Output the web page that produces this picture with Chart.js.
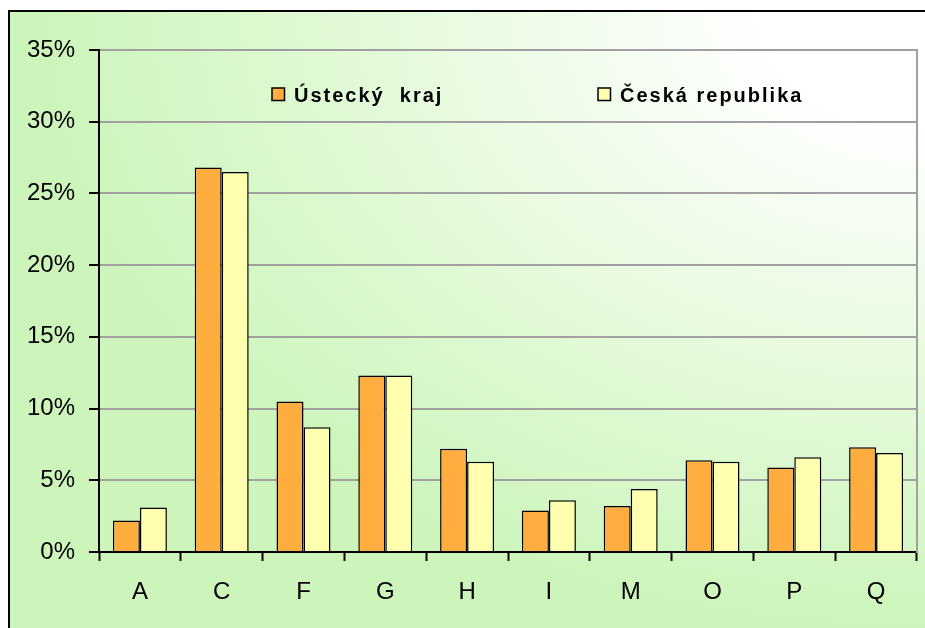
<!DOCTYPE html>
<html lang="cs">
<head>
<meta charset="UTF-8">
<title>Struktura zaměstnanosti</title>
<script src="https://cdn.jsdelivr.net/npm/chart.js"></script>
<style>
    body { margin: 0; background: #fff; width: 925px; height: 628px; overflow: hidden; position: relative; }
    #ramecek {
        position: absolute; left: 8px; top: 10px; width: 917px; height: 640px;
        border: 2px solid #000;
        background: radial-gradient(ellipse farthest-corner at top right, #ffffff 0%, #ffffff 12%, #cdf5bb 68%, #cdf5bb 100%);
    }
    #graf { position: absolute; left: 0; top: 0; }
</style>
</head>
<body>
<div id="ramecek"></div>
<canvas id="graf" width="925" height="628"></canvas>

<script>
// sekce CZ-NACE
const kategorie = ['A', 'C', 'F', 'G', 'H', 'I', 'M', 'O', 'P', 'Q'];
// podil na zamestnanosti (%)
const usteckyKraj = [2.2, 26.8, 10.5, 12.3, 7.2, 2.9, 3.2, 6.4, 5.9, 7.3];
const ceskaRepublika = [3.1, 26.5, 8.7, 12.3, 6.3, 3.6, 4.4, 6.3, 6.6, 6.9];
const nazvyRad = ['Ústecký  kraj', 'Česká republika'];
const barvy = ['#ffad3f', '#ffffaf'];

// legenda uvnitr grafu, jako v excelu
const legendaUvnitr = {
    id: 'legendaUvnitr',
    afterDraw(chart) {
        const ctx = chart.ctx;
        const area = chart.chartArea;
        const pozice = [area.left + 173, area.left + 499];
        ctx.save();
        ctx.font = 'bold 20px "Liberation Sans", Arial, sans-serif';
        ctx.letterSpacing = '2px';
        ctx.textBaseline = 'middle';
        chart.data.datasets.forEach(function (ds, i) {
            const x = pozice[i];
            const y = area.top + 46;
            ctx.fillStyle = ds.backgroundColor;
            ctx.fillRect(x, y - 8, 12.5, 12.5);
            ctx.strokeStyle = '#000';
            ctx.lineWidth = 1.5;
            ctx.strokeRect(x, y - 8, 12.5, 12.5);
            ctx.fillStyle = '#000';
            ctx.fillText(ds.label, x + 22, y);
        });
        ctx.restore();
    }
};

const pismo = { family: '"Liberation Sans", Arial, sans-serif', size: 24 };

const graf = new Chart(document.getElementById('graf'), {
    type: 'bar',
    data: {
        labels: kategorie,
        datasets: [
            {
                label: nazvyRad[0],
                data: usteckyKraj,
                backgroundColor: barvy[0],
                borderColor: '#000',
                borderWidth: 1.5,
                categoryPercentage: 0.66,
                barPercentage: 1
            },
            {
                label: nazvyRad[1],
                data: ceskaRepublika,
                backgroundColor: barvy[1],
                borderColor: '#000',
                borderWidth: 1.5,
                categoryPercentage: 0.66,
                barPercentage: 1
            }
        ]
    },
    options: {
        responsive: false,
        animation: false,
        devicePixelRatio: 1,
        layout: { padding: { top: 50, left: 0, right: 0, bottom: 0 } },
        plugins: {
            legend: { display: false },
            tooltip: { enabled: false }
        },
        scales: {
            x: {
                grid: {
                    offset: true,
                    drawOnChartArea: false,
                    tickColor: '#000',
                    tickLength: 9,
                    tickWidth: 2
                },
                border: { color: '#000', width: 2 },
                ticks: {
                    color: '#000',
                    padding: 17,
                    font: pismo
                },
                afterFit(scale) { scale.height = 76; }
            },
            y: {
                min: 0,
                max: 35,
                ticks: {
                    stepSize: 5,
                    color: '#000',
                    padding: 14,
                    font: pismo,
                    callback: function (v) { return v + '%'; }
                },
                grid: {
                    color: '#a0a0a0',
                    lineWidth: 2,
                    tickColor: '#000',
                    tickLength: 10,
                    tickWidth: 2
                },
                border: { color: '#000', width: 2 },
                afterFit(scale) { scale.width = 99; }
            },
            y2: {
                position: 'right',
                display: true,
                min: 0,
                max: 35,
                ticks: { display: false },
                grid: { display: false, drawTicks: false },
                border: { color: '#a0a0a0', width: 2 },
                afterFit(scale) { scale.width = 8; }
            }
        }
    },
    plugins: [legendaUvnitr]
});
</script>
</body>
</html>
